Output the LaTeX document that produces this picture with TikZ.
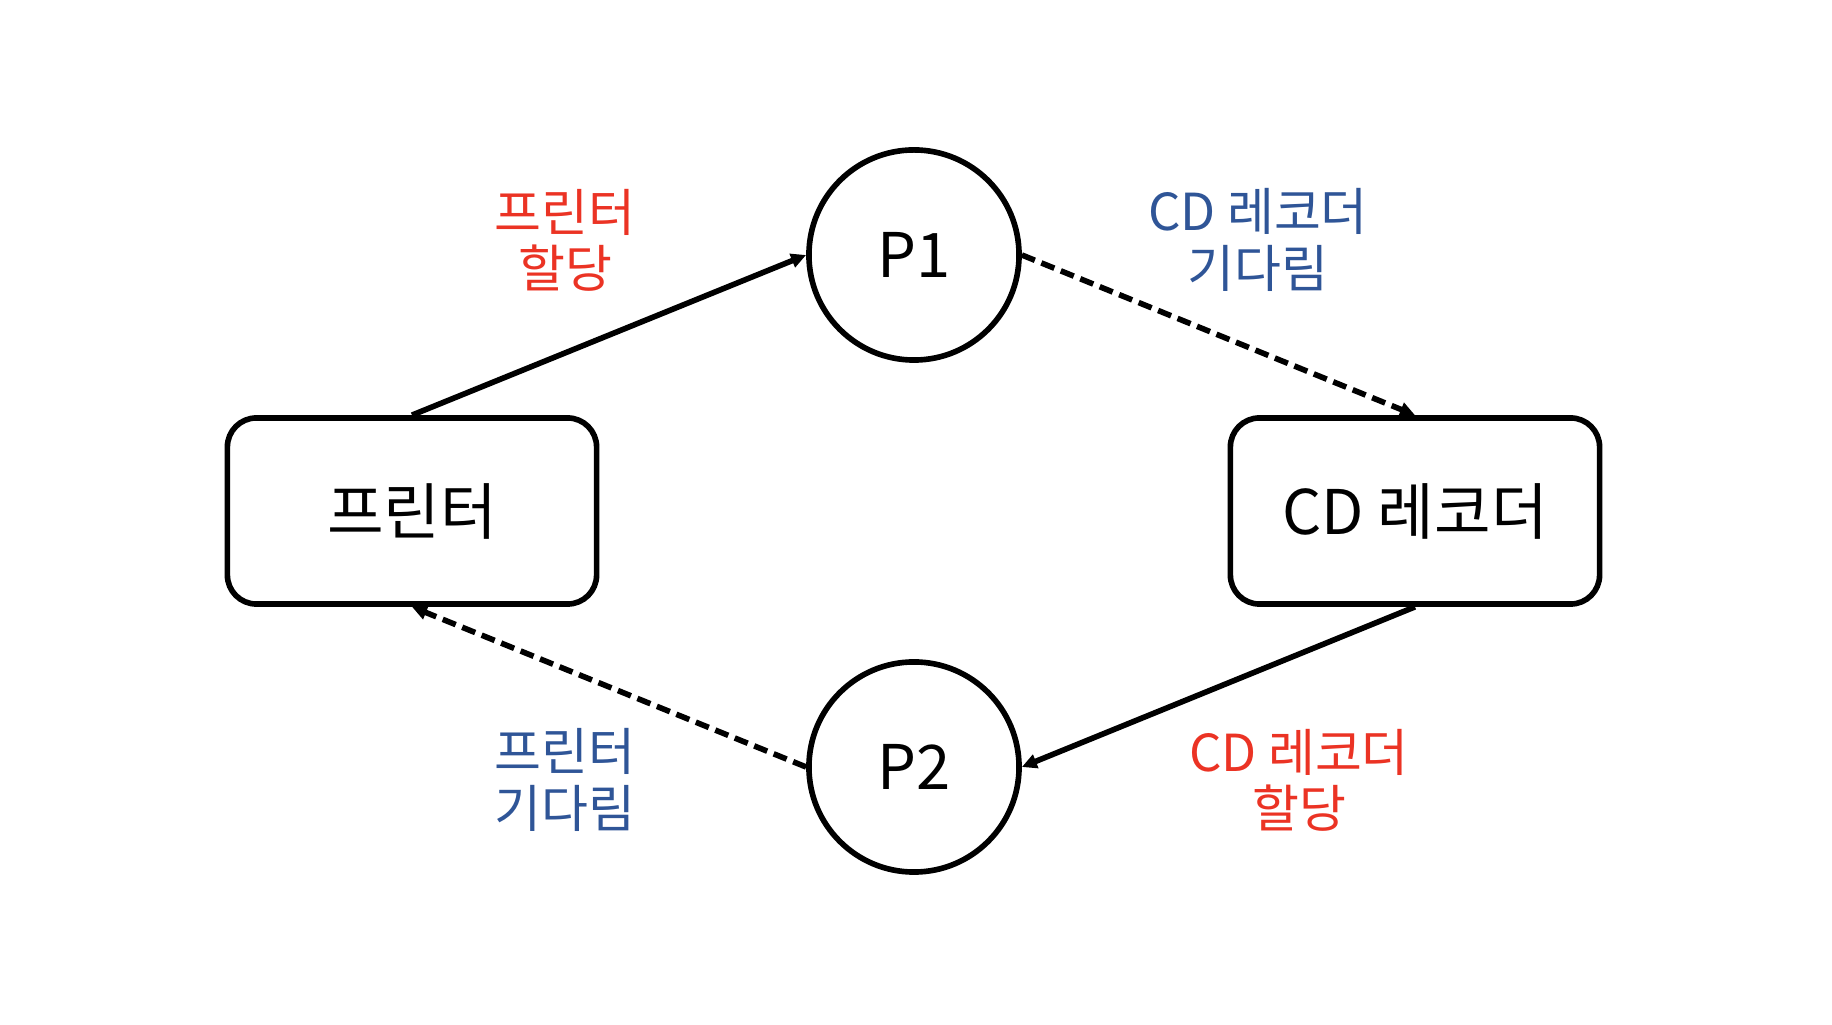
\documentclass[tikz,border=0pt]{standalone}
\usepackage{fontspec}
\setmainfont{Noto Sans CJK KR}
\usetikzlibrary{arrows.meta}
\definecolor{allocred}{RGB}{235,51,36}
\definecolor{waitblue}{RGB}{47,85,151}
\tikzset{
  procnode/.style={draw, circle, line width=1.6pt, minimum size=2.1cm, inner sep=0pt, font=\fontsize{17.5}{20}\selectfont},
  resbox/.style={draw, rounded corners=0.29cm, line width=1.6pt, minimum width=3.69cm, minimum height=1.86cm, font=\fontsize{17.5}{20}\selectfont},
  edgelabel/.style={align=center, font=\fontsize{14.5}{16}\selectfont},
  holds/.style={-{Triangle[length=0.15cm, width=0.14cm]}, line width=1.6pt},
  waits/.style={holds, dash pattern=on 0.14cm off 0.07cm}
}
\begin{document}
\begin{tikzpicture}[x=0.01cm, y=-0.01cm]
        \useasboundingbox (0,0) rectangle (1832,1025);

        % processes
        \node[procnode] (p1) at (914,255) {P1};
        \node[procnode] (p2) at (914,767) {P2};

        % resources
        \node[resbox] (printer) at (412,511) {프린터};
        \node[resbox] (cdrec) at (1415,511) {CD 레코더};

        % allocations and requests
        \draw[holds] (printer.north) -- (p1.west);
        \draw[waits] (p1.east) -- (cdrec.north);
        \draw[holds] (cdrec.south) -- (p2.east);
        \draw[waits] (p2.west) -- (printer.south);

        % labels
        \node[edgelabel, allocred] (lprintalloc) at (565,240) {프린터\\할당};
        \node[edgelabel, waitblue] (lcdwait) at (1258,240) {CD 레코더\\기다림};
        \node[edgelabel, waitblue] (lprintwait) at (565,780) {프린터\\기다림};
        \node[edgelabel, allocred] (lcdalloc) at (1299,780) {CD 레코더\\할당};
\end{tikzpicture}
\end{document}
